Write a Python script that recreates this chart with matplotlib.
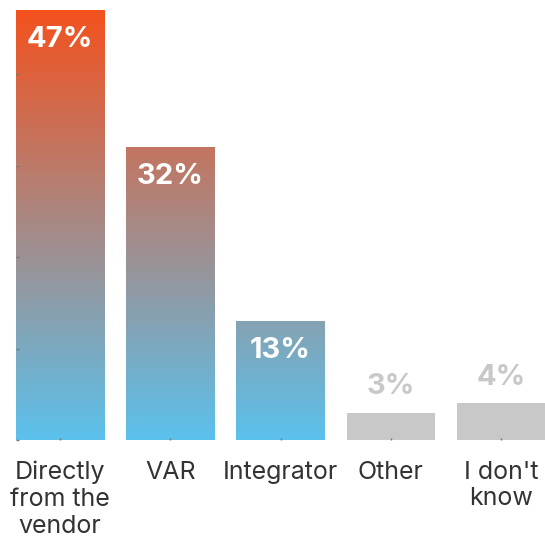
import numpy as np
import matplotlib
matplotlib.use("Agg")
import matplotlib.pyplot as plt
from matplotlib.colors import LinearSegmentedColormap

plt.rcParams['font.family'] = ['Inter', 'DejaVu Sans']

categories = ["Directly\nfrom the\nvendor", "VAR", "Integrator", "Other", "I don't\nknow"]
values = [47, 32, 13, 3, 4]
highlight = [True, True, True, False, False]

top_color = "#F4511E"
bottom_color = "#5BC1EC"
gray_color = "#C8C8C8"
label_gray = "#C8C8C8"
text_color = "#333333"

cmap = LinearSegmentedColormap.from_list("grad", [bottom_color, top_color])

fig = plt.figure(figsize=(5.45, 5.40), dpi=100)
ax = fig.add_axes([16 / 545, 100 / 540, 529 / 545, 430 / 540 * 48 / 47])

x = np.arange(len(values))
width = 0.8
ymax_grad = max(values)
bars = ax.bar(x, values, width=width, color=[gray_color if not h else "none" for h in highlight],
              edgecolor="none", zorder=2)

# vertical gradient shared by all highlighted bars, scaled to the tallest one
for b, h in zip(bars, highlight):
    if not h:
        continue
    x0 = b.get_x()
    x1 = x0 + b.get_width()
    hgt = b.get_height()
    frac = hgt / ymax_grad
    img = np.linspace(0, frac, 256).reshape(-1, 1)
    ax.imshow(img, cmap=cmap, vmin=0, vmax=1, extent=(x0, x1, 0, hgt),
              origin="lower", aspect="auto", zorder=2, interpolation="bilinear")

for b, v, h in zip(bars, values, highlight):
    cx = b.get_x() + b.get_width() / 2
    if h:
        ax.annotate(f"{v}%", (cx, v), xytext=(0, -21), textcoords="offset points",
                    ha="center", va="center", color="white", fontsize=21,
                    fontweight="bold", zorder=4)
    else:
        ax.annotate(f"{v}%", (cx, v), xytext=(0, 19), textcoords="offset points",
                    ha="center", va="center", color=label_gray, fontsize=21,
                    fontweight="bold", zorder=4)

ax.set_xlim(-0.4, len(values) - 0.6)
ax.set_ylim(0, 48)
ax.set_yticks([0, 10, 20, 30, 40])
ax.set_yticklabels([])
ax.set_xticks(x)
ax.set_xticklabels(categories, fontsize=18, color=text_color, linespacing=1.2)
ax.tick_params(axis="y", direction="in", length=2, width=1, color="#777777")
ax.tick_params(axis="x", direction="in", length=1.5, width=1, color="#777777", pad=15)
for s in ax.spines.values():
    s.set_visible(False)
ax.set_axisbelow(False)

fig.savefig("out.png", dpi=100)
